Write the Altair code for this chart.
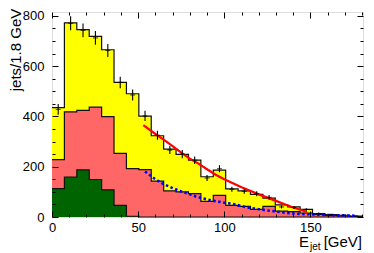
import altair as alt
import pandas as pd

# ---------------- data ----------------
bin_edges = [0, 7.2, 14.4, 21.6, 28.8, 36, 43.2, 50.4, 57.6, 64.8, 72, 79.2, 86.4,
             93.6, 100.8, 108, 115.2, 122.4, 129.6, 136.8, 144, 151.2, 158.4, 165.6,
             172.8, 180]
total_counts = [435, 772, 745, 718, 665, 535, 490, 401, 323, 270, 249, 226, 160,
                186, 112, 104, 90, 75, 48, 40, 30, 14, 10, 7, 4]
salmon_counts = [228, 418, 424, 437, 399, 253, 192, 188, 143, 104, 100, 93, 62,
                 86, 46, 42, 30, 42, 23, 21, 16, 10, 6, 4, 2]
green_counts = [113, 159, 187, 149, 108, 46, 3, 0, 0, 0, 0, 0, 0,
                0, 0, 0, 0, 0, 0, 0, 0, 0, 0, 0, 0]
data_counts = [428, 770, 742, 712, 662, 535, 485, 402, 325, 266, 250, 226, 155,
               192, 110, 102, 92, 78, 40, 38, 30, 14, 10, 7, 4]
data_errors = [21, 28, 27, 27, 26, 23, 22, 20, 18, 16, 16, 15, 12,
               14, 10, 10, 10, 9, 6, 6, 5, 4, 3, 3, 2]

fit_x = [53, 60, 65, 70, 75, 80, 85, 90, 95, 100, 105, 110, 115, 120, 125, 130,
         135, 140, 145, 148]
fit_y = [365, 330, 307, 282, 256, 232, 212, 190, 168, 150, 134, 118, 104, 90, 77,
         64, 51, 38, 27, 20]

bkg_x = [54, 60, 65, 70, 74, 80, 84, 90, 94, 100, 104, 110, 113, 120, 125, 132,
         138, 145, 152, 160, 170, 177]
bkg_y = [181, 150, 130, 115, 104, 90, 80, 70, 64, 57, 53, 44, 38, 31, 26, 20,
         15, 12, 10, 8, 6, 5]

x_major = [0, 50, 100, 150]
x_minor = [10, 20, 30, 40, 60, 70, 80, 90, 110, 120, 130, 140, 160, 170, 180]
y_major = [0, 200, 400, 600, 800]
y_minor = [50, 100, 150, 250, 300, 350, 450, 500, 550, 650, 700, 750]

y_title = "jets/1.8 GeV"
x_title_main = "E"
x_title_sub = "jet"
x_title_unit = "[GeV]"

FONT = "Liberation Sans"


def step_df(vals):
    return pd.DataFrame({"x": list(bin_edges), "y": list(vals) + [vals[-1]]})


centers = [(bin_edges[i] + bin_edges[i + 1]) / 2 for i in range(len(data_counts))]
pts = pd.DataFrame({
    "c": centers,
    "v": data_counts,
    "lo": [v - e for v, e in zip(data_counts, data_errors)],
    "hi": [v + e for v, e in zip(data_counts, data_errors)],
})
fit_df = pd.DataFrame({"x": fit_x, "y": fit_y})
bkg_df = pd.DataFrame({"x": bkg_x, "y": bkg_y})

XS = alt.Scale(domain=[0, 180.5], nice=False, zero=False)
YS = alt.Scale(domain=[0, 815], nice=False)


def axis(orient, values, size, labels, pad=3):
    kw = dict(orient=orient, values=values, tickSize=size, offset=-size,
              domain=False, grid=False, labels=labels, title=None, zindex=1,
              tickColor="black", tickWidth=1)
    if labels:
        kw.update(labelFont=FONT, labelFontSize=13, labelColor="black",
                  labelPadding=pad, labelFlush=False, labelOverlap=False)
    return alt.Axis(**kw)


def enc(xf, yf, xa, ya):
    return dict(x=alt.X(xf, scale=XS, axis=xa), y=alt.Y(yf, scale=YS, axis=ya))


yellow_area = alt.Chart(step_df(total_counts)).mark_area(
    interpolate="step-after", color="#ffff00").encode(
    **enc("x:Q", "y:Q", axis("bottom", x_major, 6, True, 4), axis("left", y_major, 6, True, 8)))
salmon_area = alt.Chart(step_df(salmon_counts)).mark_area(
    interpolate="step-after", color="#ff6666").encode(
    **enc("x:Q", "y:Q", axis("bottom", x_minor, 3, False), axis("left", y_minor, 3, False)))
green_area = alt.Chart(step_df(green_counts)).mark_area(
    interpolate="step-after", color="#006400").encode(
    **enc("x:Q", "y:Q", axis("top", x_major, 6, False), axis("right", y_major, 6, False)))

yellow_line = alt.Chart(step_df(total_counts)).mark_line(
    interpolate="step-after", color="#111111", strokeWidth=1.2).encode(
    **enc("x:Q", "y:Q", axis("top", x_minor, 3, False), axis("right", y_minor, 3, False)))
salmon_line = alt.Chart(step_df(salmon_counts)).mark_line(
    interpolate="step-after", color="#111111", strokeWidth=1.2).encode(
    **enc("x:Q", "y:Q", None, None))
green_line = alt.Chart(step_df(green_counts)).mark_line(
    interpolate="step-after", color="#111111", strokeWidth=1.2).encode(
    **enc("x:Q", "y:Q", None, None))

bkg_line = alt.Chart(bkg_df).mark_line(
    color="#0000ff", strokeWidth=2.6, strokeDash=[2.5, 2.5]).encode(
    **enc("x:Q", "y:Q", None, None))
fit_line = alt.Chart(fit_df).mark_line(color="#ff0000", strokeWidth=2.2).encode(
    **enc("x:Q", "y:Q", None, None))

err_rules = alt.Chart(pts).mark_rule(color="black", strokeWidth=1.1).encode(
    x=alt.X("c:Q", scale=XS, axis=None),
    y=alt.Y("lo:Q", scale=YS, axis=None),
    y2="hi:Q")
pt_ticks = alt.Chart(pts).mark_tick(
    orient="horizontal", color="black", size=5, thickness=1.1).encode(
    **enc("c:Q", "v:Q", None, None))

ytitle = alt.Chart(pd.DataFrame({"t": [y_title]})).mark_text(
    angle=270, align="center", baseline="middle", fontSize=15, font=FONT,
    color="black").encode(x=alt.value(-36), y=alt.value(38), text="t:N")
xt_main = alt.Chart(pd.DataFrame({"t": [x_title_main]})).mark_text(
    align="left", baseline="alphabetic", fontSize=15, font=FONT,
    color="black").encode(x=alt.value(247), y=alt.value(235), text="t:N")
xt_sub = alt.Chart(pd.DataFrame({"t": [x_title_sub]})).mark_text(
    align="left", baseline="alphabetic", fontSize=10, font=FONT,
    color="black").encode(x=alt.value(258), y=alt.value(238), text="t:N")
xt_unit = alt.Chart(pd.DataFrame({"t": [x_title_unit]})).mark_text(
    align="right", baseline="alphabetic", fontSize=15, font=FONT,
    color="black").encode(x=alt.value(310), y=alt.value(235), text="t:N")

chart = alt.layer(
    yellow_area, salmon_area, green_area,
    yellow_line, salmon_line, green_line,
    bkg_line, fit_line, err_rules, pt_ticks,
    ytitle, xt_main, xt_sub, xt_unit,
).resolve_axis(x="independent", y="independent").properties(
    width=311, height=205,
    padding={"left": 44, "top": 4, "right": 3, "bottom": 36},
    autosize=alt.AutoSizeParams(type="none"),
).configure_view(stroke="#111111", strokeWidth=1.2).configure(background="white")

chart.save("out.html", embed_options={"renderer": "svg", "actions": False})
